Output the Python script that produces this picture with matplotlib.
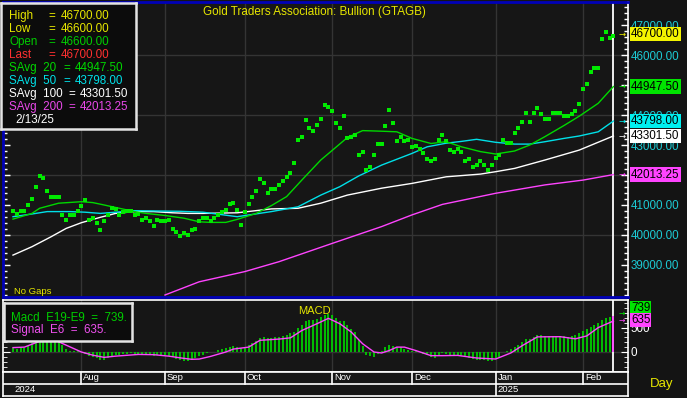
import numpy as np
import pandas as pd
import matplotlib
matplotlib.use('Agg')
import matplotlib.pyplot as plt
from matplotlib.ticker import MultipleLocator
from matplotlib.transforms import blended_transform_factory

plt.rcParams['font.family'] = ['Liberation Sans', 'DejaVu Sans']

# trading days on the chart (weekdays)
days = pd.bdate_range('2024-07-08', '2025-02-13')

# daily price marks (mid of each small high/low bar)
price = [40800, 40700, 40800, 40800, 41000, 41200, 41600, 41950, 41900, 41450,
         41250, 41250, 41250, 40650, 40500, 40650, 40650, 40800, 40950, 41150,
         40500, 40550, 40400, 40150, 40450, 40650, 40900, 40850, 40650, 40750,
         40800, 40800, 40650, 40700, 40500, 40550, 40450, 40300, 40500, 40450,
         40450, 40500, 40200, 40100, 39980, 40080, 40000, 40150, 40200, 40450,
         40570, 40550, 40480, 40550, 40650, 40780, 40840, 41040, 41080, 40840,
         40340, 40780, 41040, 41280, 41470, 41870, 41740, 41390, 41540, 41540,
         41670, 41790, 41930, 42060, 42390, 43180, 43280, 43840, 43580, 43470,
         43680, 43880, 44330, 44280, 44140, 43740, 43580, 43980, 43240, 43280,
         43340, 42680, 42770, 42170, 42280, 42680, 43040, 43040, 43640, 44180,
         43740, 43140, 43280, 43140, 43180, 42940, 42980, 42870, 42740, 42540,
         42480, 42540, 43170, 43340, 43130, 42830, 42780, 42880, 42780, 42480,
         42540, 42280, 42340, 42480, 42340, 42180, 42340, 42580, 42670, 43170,
         43080, 43080, 43390, 43580, 43770, 44080, 43770, 44060, 44240, 44040,
         43880, 43880, 44080, 44080, 44080, 43980, 43980, 44040, 44130, 44380,
         44870, 45040, 45440, 45580, 45580, 46540, 46780, 46580, 46650]

bar_high = 46700.00
bar_low = 46600.00
bar_open = 46600.00
bar_last = 46700.00
last_date = '2/13/25'

# moving averages, read at these day numbers
sma20_at = [0, 5, 7, 12, 18, 21, 24, 28, 32, 35, 40, 45, 49, 52, 56, 59, 64, 68, 72, 76,
            81, 84, 88, 92, 97, 101, 105, 110, 114, 118, 123, 127, 132, 136, 140, 145, 149, 154, 158]
sma20 = [40530, 40720, 40890, 41060, 41110, 41080, 41000, 40890, 40780, 40720,
         40650, 40560, 40440, 40420, 40420, 40520, 40720, 40980, 41280, 41830,
         42500, 42820, 43250, 43480, 43460, 43440, 43220, 43050, 43110, 42940,
         42780, 42700, 42800, 43000, 43280, 43650, 43960, 44390, 44947.50]

sma50_at = [0, 5, 9, 15, 19, 23, 32, 44, 50, 59, 68, 75, 81, 86, 91, 97, 105, 109, 114, 118,
            122, 127, 132, 136, 140, 145, 149, 154, 158]
sma50 = [40610, 40700, 40780, 40780, 40760, 40720, 40810, 40790, 40760, 40610,
         40780, 40940, 41330, 41610, 41970, 42330, 42720, 42940, 43060, 43120,
         43190, 43090, 43030, 43030, 43110, 43220, 43300, 43440, 43798.00]

sma100_at = [0, 5, 10, 14, 18, 23, 27, 32, 37, 42, 46, 50, 59, 68, 75, 81, 88, 97, 105, 114,
             123, 127, 132, 140, 149, 158]
sma100 = [39330, 39610, 39940, 40220, 40410, 40590, 40720, 40780, 40780, 40740,
          40720, 40720, 40740, 40870, 40890, 41060, 41330, 41560, 41720, 41940,
          42030, 42110, 42220, 42500, 42830, 43301.50]

sma200_at = [40, 49, 61, 70, 84, 97, 105, 113, 127, 140, 150, 158]
sma200 = [38000, 38440, 38780, 39110, 39720, 40280, 40670, 41020, 41390, 41670, 41830, 42013.25]

# MACD (E19-E9) per day and its signal (E6)
macd = [80, 70, 80, 90, 130, 190, 260, 340, 380, 370,
        330, 290, 250, 150, 60, 30, 20, 20, -10, -40,
        -80, -100, -130, -170, -160, -130, -90, -70, -60, -50,
        -40, -30, -40, -40, -50, -50, -60, -80, -70, -70,
        -70, -80, -110, -140, -170, -180, -180, -150, -130, -90,
        -60, -30, -10, 10, 40, 60, 80, 110, 120, 110,
        90, 110, 140, 180, 220, 280, 300, 280, 290, 300,
        310, 330, 350, 380, 420, 500, 560, 640, 660, 660,
        680, 710, 760, 780, 760, 700, 640, 640, 560, 480,
        400, 250, 130, -60, -90, -100, -50, 30, 110, 150,
        130, 110, 100, 60, 50, 30, 20, -10, -40, -70,
        -100, -120, -60, -30, -40, -70, -70, -70, -80, -110,
        -120, -150, -160, -160, -170, -190, -180, -150, -100, -10,
        20, 60, 100, 150, 200, 260, 260, 300, 340, 340,
        330, 320, 320, 330, 330, 320, 310, 320, 340, 380,
        430, 470, 520, 560, 590, 650, 700, 720, 739]

signal_at = [0, 3, 7, 10, 14, 18, 21, 24, 27, 33, 37, 41, 44, 47, 49, 52, 56, 58, 62, 65,
             70, 73, 76, 80, 83, 86, 89, 92, 95, 97, 99, 101, 103, 106, 110, 113, 117, 122,
             127, 131, 134, 138, 144, 148, 151, 154, 158]
signal = [90, 100, 220, 280, 140, 0, -65, -110, -85, -50, -55, -85, -120, -150, -145, -90,
          0, 60, 100, 240, 265, 290, 440, 580, 690, 580, 410, 170, 0, -20, 30, 100, 100,
          30, -75, -75, -70, -123, -144, -20, 130, 310, 314, 270, 330, 500, 635]

# ---------------------------------------------------------------
W, H = 687, 398
BG = '#161616'
GRID = '#343434'
YEL = '#e6e600'
GRN = '#00d800'
CYA = '#00e0e8'
MAG = '#ff44ff'
FS = 8.4


def rect(x0, y0, x1, y1):
    return [x0 / W, 1 - y1 / H, (x1 - x0) / W, (y1 - y0) / H]


def ftext(px, py, s, color, **kw):
    kw.setdefault('fontsize', FS)
    kw.setdefault('va', 'center')
    fig.text(px / W, 1 - py / H, s, color=color, **kw)


fig = plt.figure(figsize=(W / 100, H / 100), dpi=100, facecolor='#141414')
x = np.arange(len(days))
xlim = (-2.63, 161.84)
month_starts = [i for i in range(1, len(days)) if days[i].month != days[i - 1].month]
first_2025 = [i for i in range(len(days)) if days[i].year == 2025][0]

# ---------------- price panel ----------------
ax = fig.add_axes(rect(3, 2, 628, 297))
ax.set_facecolor(BG)
ax.set_xlim(*xlim)
ax.set_ylim(37933, 47767)
for s in ['left', 'top', 'bottom']:
    ax.spines[s].set_color('#0000b8')
    ax.spines[s].set_linewidth(2)
ax.spines['right'].set_color('white')
ax.spines['right'].set_linewidth(1.2)
ax.set_xticks([])
ax.yaxis.tick_right()
ax.set_yticks(range(39000, 48000, 1000))
ax.set_yticklabels([f'{v:.2f}' for v in range(39000, 48000, 1000)])
ax.yaxis.set_minor_locator(MultipleLocator(200))
ax.tick_params(axis='y', which='both', left=True, right=True, labelleft=False,
               labelright=True, direction='in', colors='white', labelcolor='#1ccad4',
               labelsize=FS, pad=2)
ax.tick_params(axis='y', which='major', length=5, width=1)
ax.tick_params(axis='y', which='minor', length=3, width=1)

for m in month_starts:
    ax.axvline(m, color=GRID, lw=1, zorder=0)
for v in [40000, 42000, 44000, 46000]:
    ax.axhline(v, color=GRID, lw=1, zorder=0)
ax.axvline(x[-1], color='white', lw=1.3, zorder=2)

ax.plot(sma200_at, sma200, color=MAG, lw=1.0, zorder=3)
ax.plot(sma100_at, sma100, color='white', lw=1.0, zorder=3)
ax.plot(sma50_at, sma50, color=CYA, lw=1.0, zorder=3)
ax.plot(sma20_at, sma20, color=GRN, lw=1.0, zorder=3)

box = [(-0.375, -0.5), (0.375, -0.5), (0.375, 0.5), (-0.375, 0.5), (-0.375, -0.5)]
ax.plot(x, price, ls='none', marker=box, ms=3.0, mew=0, color='#00ea00', zorder=4)

tr = blended_transform_factory(ax.transAxes, ax.transData)
for val, col in [(bar_last, '#f4f400'), (sma20[-1], '#00e400'), (sma50[-1], '#00f0f0'),
                 (sma100[-1], '#ffffff'), (sma200[-1], MAG)]:
    ax.text(1.0048, val, f'{val:.2f}', transform=tr, ha='left', va='center',
            fontsize=FS, color='black', clip_on=False, zorder=10,
            bbox=dict(boxstyle='square,pad=0.12', fc=col, ec='none'))
    ax.text(0.985, val, '\u2192', transform=tr, ha='left', va='center',
            fontsize=6, color=col, family='DejaVu Sans', zorder=10)

ftext(314, 12, 'Gold Traders Association: Bullion (GTAGB)', YEL, ha='center')
ftext(14, 292, 'No Gaps', YEL, fontsize=6.8)

# legend box of the price panel
lg = fig.add_axes(rect(1, 3, 136, 129))
lg.set_facecolor('#0c0c0c')
lg.set_xticks([])
lg.set_yticks([])
for s in lg.spines.values():
    s.set_color('#e4e4e4')
    s.set_linewidth(1.8)

rows = [
    ('High', '=', f'{bar_high:.2f}', YEL, 48, 61),
    ('Low', '=', f'{bar_low:.2f}', YEL, 48, 61),
    ('Open', '=', f'{bar_open:.2f}', '#00cc00', 48, 61),
    ('Last', '=', f'{bar_last:.2f}', '#ff3030', 48, 61),
    ('SAvg  20', '=', f'{sma20[-1]:.2f}', GRN, 63, 75),
    ('SAvg  50', '=', f'{sma50[-1]:.2f}', CYA, 63, 75),
    ('SAvg  100', '=', f'{sma100[-1]:.2f}', 'white', 68, 80),
    ('SAvg  200', '=', f'{sma200[-1]:.2f}', '#e848e8', 68, 80),
]
for k, (lab, eq, val, col, xe, xv) in enumerate(rows):
    py = 16 + 13 * k
    ftext(9, py, lab, col)
    ftext(xe, py, eq, col)
    ftext(xv, py, val, col)
ftext(15, 120, last_date, 'white')

# ---------------- MACD panel ----------------
am = fig.add_axes(rect(3, 300, 628, 372))
am.set_facecolor(BG)
am.set_xlim(*xlim)
am.set_ylim(-410, 1066)
for s in am.spines.values():
    s.set_color('white')
    s.set_linewidth(1.2)
am.set_xticks([])
am.yaxis.tick_right()
am.set_yticks([0, 500])
am.set_yticklabels(['0', '500'])
am.yaxis.set_minor_locator(MultipleLocator(100))
am.tick_params(axis='y', which='both', left=True, right=True, labelleft=False,
               labelright=True, direction='in', colors='white', labelcolor='white',
               labelsize=FS, pad=2)
am.tick_params(axis='y', which='major', length=5)
am.tick_params(axis='y', which='minor', length=3)
for m in month_starts:
    am.axvline(m, color=GRID, lw=1, zorder=0)
am.axhline(0, color=GRID, lw=1, zorder=0)

am.vlines(x[:-1], 0, macd[:-1], color='#00cc00', lw=1.3, zorder=2)
am.vlines(x[-1:], 0, macd[-1:], color=MAG, lw=1.3, zorder=2)
am.axvline(x[-1], color='white', lw=1.3, zorder=1)
am.plot(signal_at, signal, color=MAG, lw=1.0, zorder=3)

trm = blended_transform_factory(am.transAxes, am.transData)
for val, ypos, col in [(macd[-1], 900, '#00e400'), (signal[-1], 660, MAG)]:
    am.text(1.0048, ypos, f'{val:.0f}', transform=trm, ha='left', va='center',
            fontsize=FS, color='black', clip_on=False, zorder=10,
            bbox=dict(boxstyle='square,pad=0.08', fc=col, ec='none'))
am.text(0.985, 790, '\u2192', transform=trm, ha='left', va='center', fontsize=5.5,
        color='#00e400', family='DejaVu Sans', zorder=10)
am.text(0.985, 650, '\u2192', transform=trm, ha='left', va='center', fontsize=5.5,
        color=MAG, family='DejaVu Sans', zorder=10)

ftext(314, 311, 'MACD', YEL, ha='center', fontsize=8)

lm = fig.add_axes(rect(4, 303, 132, 341))
lm.set_facecolor('#0c0c0c')
lm.set_xticks([])
lm.set_yticks([])
for s in lm.spines.values():
    s.set_color('#e4e4e4')
    s.set_linewidth(1.8)
ftext(11, 318, f'Macd  E19-E9  =  {macd[-1]:.0f}.', '#00cc00')
ftext(11, 330, f'Signal  E6  =  {signal[-1]:.0f}.', '#ee50ee')

# ---------------- date strip ----------------
ad = fig.add_axes(rect(3, 372, 628, 396))
ad.set_facecolor(BG)
ad.set_xlim(*xlim)
ad.set_ylim(0, 1)
ad.set_xticks([])
ad.set_yticks([])
for s in ad.spines.values():
    s.set_color('white')
    s.set_linewidth(1.2)
ad.axhline(0.52, color='white', lw=1.2)
for m in month_starts:
    ad.plot([m, m], [0.52, 1], color='white', lw=1.2)
    ad.text(m + 0.5, 0.76, days[m].strftime('%b'), color='white', fontsize=6.8,
            ha='left', va='center')
ad.plot([first_2025, first_2025], [0, 0.52], color='white', lw=1.2)
ad.text(0.5, 0.25, str(days[0].year), color='white', fontsize=6.8, ha='left', va='center')
ad.text(first_2025 + 0.4, 0.25, str(days[first_2025].year), color='white', fontsize=6.8,
        ha='left', va='center')

ftext(662, 384, 'Day', YEL, ha='center', fontsize=9.5)

fig.savefig('out.png', dpi=100, facecolor=fig.get_facecolor())
